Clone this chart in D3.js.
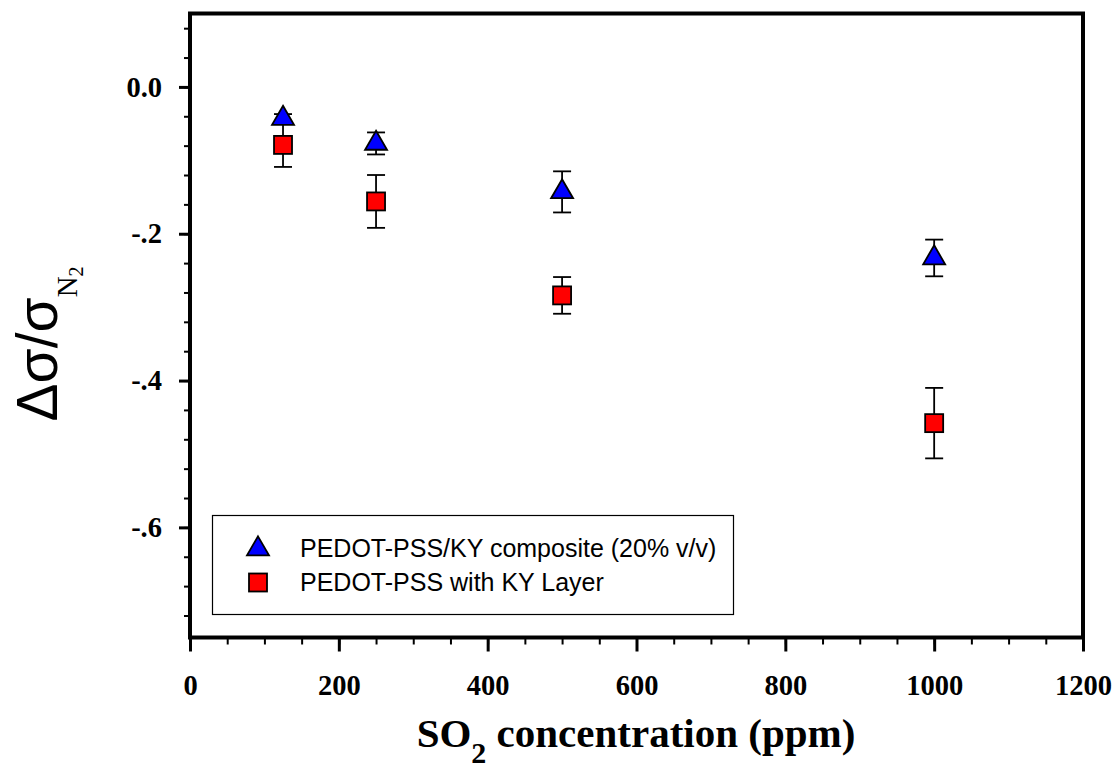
<!DOCTYPE html>
<html>
<head>
<meta charset="utf-8">
<script src="https://cdn.jsdelivr.net/npm/d3@7"></script>
<style>
  html, body { margin: 0; padding: 0; background: #fff; }
  svg { display: block; }
</style>
</head>
<body>
<svg id="chart" width="1116" height="780"></svg>
<script>
// SO2 concentrations (ppm)
const concentrations = [125, 250, 500, 1000];

// Normalised conductance change and error for each film type
const compositeValues = [-0.043, -0.077, -0.143, -0.233];
const compositeErrors = [0.006, 0.015, 0.028, 0.025];
const layerValues = [-0.079, -0.156, -0.284, -0.458];
const layerErrors = [0.030, 0.036, 0.025, 0.048];

const seriesNames = ["PEDOT-PSS/KY composite (20% v/v)", "PEDOT-PSS with KY Layer"];

// Axis ticks
const xMajorTicks = [0, 200, 400, 600, 800, 1000, 1200];
const xMinorTicks = d3.range(0, 1201, 50);
const yMajorTicks = [0, -0.2, -0.4, -0.6];
const yMajorLabels = ["0.0", "-.2", "-.4", "-.6"];
const yMinorTicks = d3.range(-18, 3).map(i => i * 0.04);

const svg = d3.select("#chart");
const plotLeft = 190, plotRight = 1083, plotTop = 13.5, plotBottom = 637.5;

const x = d3.scaleLinear().domain([0, 1200]).range([plotLeft, plotRight]);
const y = d3.scaleLinear().domain([0.1, -0.75]).range([plotTop, plotBottom]);

const serif = "'Liberation Serif', 'Times New Roman', serif";
const sans = "'Liberation Sans', Arial, sans-serif";

// X axis: minor then major ticks
const xMinor = svg.append("g").attr("transform", `translate(0,${plotBottom})`)
  .call(d3.axisBottom(x).tickValues(xMinorTicks).tickSize(7).tickFormat(""));
xMinor.select(".domain").remove();
xMinor.selectAll("line").attr("stroke", "#000").attr("stroke-width", 2);

const xMajor = svg.append("g").attr("transform", `translate(0,${plotBottom})`)
  .call(d3.axisBottom(x).tickValues(xMajorTicks).tickSize(14).tickPadding(23).tickFormat(d3.format("d")));
xMajor.select(".domain").remove();
xMajor.selectAll("line").attr("stroke", "#000").attr("stroke-width", 3);
xMajor.selectAll("text").attr("fill", "#000")
  .style("font-family", serif).style("font-weight", "bold").style("font-size", "28.5px");

// Y axis: minor then major ticks
const yMinor = svg.append("g").attr("transform", `translate(${plotLeft},0)`)
  .call(d3.axisLeft(y).tickValues(yMinorTicks).tickSize(6).tickFormat(""));
yMinor.select(".domain").remove();
yMinor.selectAll("line").attr("stroke", "#000").attr("stroke-width", 2);

const yMajor = svg.append("g").attr("transform", `translate(${plotLeft},0)`)
  .call(d3.axisLeft(y).tickValues(yMajorTicks).tickSize(11).tickPadding(17)
    .tickFormat((d, i) => yMajorLabels[i]));
yMajor.select(".domain").remove();
yMajor.selectAll("line").attr("stroke", "#000").attr("stroke-width", 3);
yMajor.selectAll("text").attr("fill", "#000")
  .style("font-family", serif).style("font-weight", "bold").style("font-size", "28.5px");

// Plot frame
svg.append("rect")
  .attr("x", plotLeft).attr("y", plotTop)
  .attr("width", plotRight - plotLeft).attr("height", plotBottom - plotTop)
  .attr("fill", "none").attr("stroke", "#000").attr("stroke-width", 4);

// Marker shapes (triangle centred on its centroid)
const triW = 22, triH = 19, sq = 18;
const triPath = `M0,${-2 * triH / 3}L${triW / 2},${triH / 3}L${-triW / 2},${triH / 3}Z`;

function drawErrorBars(values, errors) {
  const g = svg.append("g").attr("stroke", "#000").attr("stroke-width", 1.8);
  concentrations.forEach((c, i) => {
    const cx = x(c), y1 = y(values[i] + errors[i]), y2 = y(values[i] - errors[i]);
    g.append("line").attr("x1", cx).attr("x2", cx).attr("y1", y1).attr("y2", y2);
    g.append("line").attr("x1", cx - 9).attr("x2", cx + 9).attr("y1", y1).attr("y2", y1);
    g.append("line").attr("x1", cx - 9).attr("x2", cx + 9).attr("y1", y2).attr("y2", y2);
  });
}

drawErrorBars(layerValues, layerErrors);
drawErrorBars(compositeValues, compositeErrors);

svg.append("g").selectAll("rect")
  .data(concentrations.map((c, i) => [c, layerValues[i]]))
  .join("rect")
  .attr("x", d => x(d[0]) - sq / 2).attr("y", d => y(d[1]) - sq / 2)
  .attr("width", sq).attr("height", sq)
  .attr("fill", "#ff0000").attr("stroke", "#000").attr("stroke-width", 1.8);

svg.append("g").selectAll("path")
  .data(concentrations.map((c, i) => [c, compositeValues[i]]))
  .join("path")
  .attr("d", triPath)
  .attr("transform", d => `translate(${x(d[0])},${y(d[1])})`)
  .attr("fill", "#0000ff").attr("stroke", "#000").attr("stroke-width", 1.8)
  .attr("stroke-linejoin", "miter");

// Legend
const legend = svg.append("g");
legend.append("rect")
  .attr("x", 212.5).attr("y", 515.5).attr("width", 521).attr("height", 99)
  .attr("fill", "#fff").attr("stroke", "#000").attr("stroke-width", 1.2);
legend.append("path").attr("d", triPath)
  .attr("transform", "translate(258,549)")
  .attr("fill", "#0000ff").attr("stroke", "#000").attr("stroke-width", 1.8);
legend.append("rect")
  .attr("x", 258 - sq / 2).attr("y", 582.5 - sq / 2).attr("width", sq).attr("height", sq)
  .attr("fill", "#ff0000").attr("stroke", "#000").attr("stroke-width", 1.8);
legend.selectAll("text.lbl").data(seriesNames).join("text")
  .attr("class", "lbl")
  .attr("x", 300).attr("y", (d, i) => 557 + i * 34)
  .style("font-family", sans).style("font-size", "25px").attr("fill", "#000")
  .text(d => d);

// X axis title
const xt = svg.append("text")
  .attr("x", 636).attr("y", 747).attr("text-anchor", "middle")
  .style("font-family", serif).style("font-weight", "bold").style("font-size", "41px")
  .attr("fill", "#000");
xt.append("tspan").text("SO");
xt.append("tspan").attr("dy", 16).style("font-size", "30px").text("2");
xt.append("tspan").attr("dy", -16).text(" concentration (ppm)");

// Y axis title
const yt = svg.append("text")
  .attr("transform", "translate(57,344) rotate(-90)")
  .attr("text-anchor", "middle")
  .style("font-family", sans).style("font-size", "57px").attr("fill", "#000");
yt.append("tspan").text("Δσ/σ");
yt.append("tspan").attr("dy", 20).style("font-family", serif)
  .style("font-size", "29px").text("N");
yt.append("tspan").attr("dy", 6).style("font-family", serif)
  .style("font-size", "20px").text("2");
</script>
</body>
</html>
